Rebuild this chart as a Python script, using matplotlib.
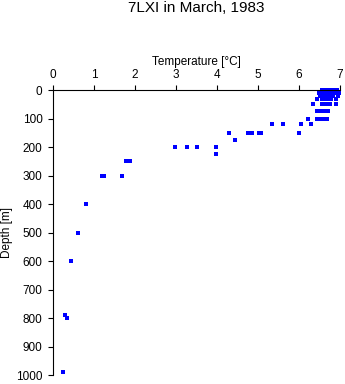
import numpy as np
import matplotlib
matplotlib.use('Agg')
import matplotlib.pyplot as plt

plt.rcParams['font.family'] = ['Liberation Sans', 'DejaVu Sans']

depth = [0, 0, 0, 0, 0, 0,
         10, 10, 10, 10, 10, 10, 10,
         20, 20, 20, 20, 20, 20,
         30, 30, 30, 30, 30, 30,
         50, 50, 50, 50, 50, 50,
         75, 75, 75, 75, 75,
         100, 100, 100, 100, 100, 100,
         120, 120, 120, 120,
         150, 150, 150, 150, 150, 150,
         175,
         200, 200, 200, 200,
         225,
         250, 250,
         300, 300, 300,
         400,
         500, 500,
         600, 600,
         790, 800,
         990]
temperature = [6.55, 6.62, 6.70, 6.78, 6.85, 6.92,
               6.48, 6.58, 6.65, 6.72, 6.80, 6.88, 6.97,
               6.50, 6.60, 6.68, 6.75, 6.83, 6.95,
               6.45, 6.55, 6.63, 6.70, 6.78, 6.90,
               6.34, 6.55, 6.62, 6.70, 6.75, 6.90,
               6.43, 6.50, 6.58, 6.65, 6.70,
               6.22, 6.43, 6.50, 6.57, 6.63, 6.67,
               5.34, 5.61, 6.05, 6.29,
               4.30, 4.76, 4.86, 5.03, 5.07, 6.00,
               4.44,
               2.97, 3.27, 3.50, 3.97,
               3.97,
               1.77, 1.88,
               1.19, 1.25, 1.68,
               0.80,
               0.60, 0.62,
               0.44, 0.45,
               0.29, 0.34,
               0.24]
x_ticks = [0, 1, 2, 3, 4, 5, 6, 7]
y_ticks = [0, 100, 200, 300, 400, 500, 600, 700, 800, 900, 1000]

fig = plt.figure(figsize=(3.45, 3.84), dpi=100)
ax = fig.add_axes([0.1536, 0.0234, 0.832, 0.7422])

ax.plot(temperature, depth, 's', color='#0000ff', markersize=2.5,
        markeredgewidth=0, clip_on=False)

ax.set_xlim(0, 7)
ax.set_ylim(1000, 0)
ax.set_xticks(x_ticks)
ax.set_yticks(y_ticks)
ax.xaxis.tick_top()
ax.xaxis.set_label_position('top')
ax.tick_params(direction='out', length=3.5, width=0.8, labelsize=8.5)
ax.tick_params(axis='y', pad=4)
ax.tick_params(axis='x', pad=3)
ax.spines['right'].set_visible(False)
ax.spines['bottom'].set_visible(False)
for s in ('top', 'left'):
    ax.spines[s].set_linewidth(0.8)

ax.set_xlabel('Temperature [°C]', fontsize=8.5, labelpad=3)
ax.set_ylabel('Depth [m]', fontsize=8.5, labelpad=2)

fig.text(0.5696, 0.979, '7LXI in March, 1983', fontsize=11,
         ha='center', va='center')

fig.savefig('out.png', dpi=100)
